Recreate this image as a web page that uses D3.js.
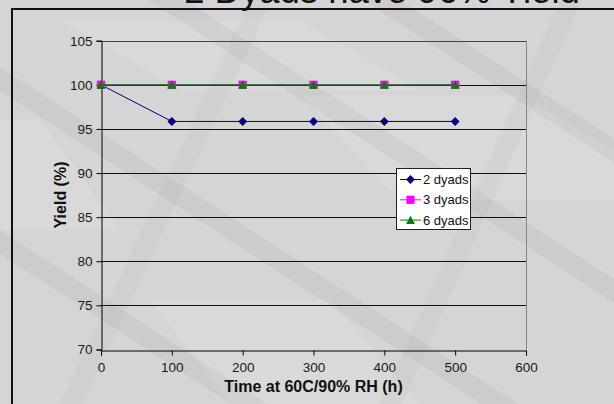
<!DOCTYPE html>
<html>
<head>
<meta charset="utf-8">
<script src="https://cdn.jsdelivr.net/npm/d3@7"></script>
<style>
  html, body { margin: 0; padding: 0; background: #d4d4d4; }
  svg { display: block; }
  text { font-family: Arial, "Liberation Sans", sans-serif; }
</style>
</head>
<body>
<script>
// ---- data ----
const hours = [0, 100, 200, 300, 400, 500];
const yield2 = [100, 95.85, 95.85, 95.85, 95.85, 95.85];
const yield3 = [100, 100, 100, 100, 100, 100];
const yield6 = [100, 100, 100, 100, 100, 100];
const seriesNames = ["2 dyads", "3 dyads", "6 dyads"];
const xTicks = [0, 100, 200, 300, 400, 500, 600];
const yTicks = [70, 75, 80, 85, 90, 95, 100, 105];
const titleText = "2 Dyads have 96% Yield";
const xTitle = "Time at 60C/90% RH (h)";
const yTitle = "Yield (%)";

const W = 614, H = 404;
const svg = d3.select("body").append("svg").attr("width", W).attr("height", H);

// ---- textured background ----
const bg = svg.append("g");
bg.append("rect").attr("width", W).attr("height", H).attr("fill", "#d5d5d5");
const panels = [
  [[60,20],[300,20],[420,90],[180,90]],
  [[300,95],[520,95],[614,150],[614,200],[400,200]],
  [[150,300],[330,300],[420,404],[230,404]],
  [[0,120],[40,120],[120,230],[0,230]]
];
panels.forEach(p => bg.append("polygon").attr("points", p.map(d => d.join(",")).join(" "))
  .attr("fill", "#ffffff").attr("opacity", 0.1));
const slope = 0.65;
[-260, -120, 67, 230, 420].forEach(c => {
  const y0 = c, y1 = c + slope * W;
  bg.append("polygon")
    .attr("points", `0,${y0} 0,${y0 + 24} ${W},${y1 + 24} ${W},${y1}`)
    .attr("fill", "#000").attr("opacity", 0.04);
});
[[250, 0, 60, 404], [560, 0, 380, 404]].forEach(b => {
  bg.append("polygon")
    .attr("points", `${b[0]},${b[1]} ${b[0] + 22},${b[1]} ${b[2] + 22},${b[3]} ${b[2]},${b[3]}`)
    .attr("fill", "#000").attr("opacity", 0.025);
});

// ---- frame & title ----
svg.append("text").attr("x", 382).attr("y", 3)
  .attr("text-anchor", "middle").attr("font-size", 36.5).attr("fill", "#111")
  .text(titleText);
svg.append("rect").attr("x", 12).attr("y", 9).attr("width", 700).attr("height", 500)
  .attr("fill", "none").attr("stroke", "#111").attr("stroke-width", 2);

// ---- scales ----
const x = d3.scaleLinear().domain([0, 600]).range([101, 526]);
const y = d3.scaleLinear().domain([70, 105]).range([349.5, 40.7]);

svg.append("g").selectAll("line").data(yTicks.filter(t => t > 70)).join("line")
  .attr("x1", x(0)).attr("x2", x(600))
  .attr("y1", d => Math.round(y(d)) + 0.5).attr("y2", d => Math.round(y(d)) + 0.5)
  .attr("stroke", d => d === 105 ? "#444" : "#111").attr("stroke-width", 1);
svg.append("line").attr("x1", Math.round(x(600)) + 0.5).attr("x2", Math.round(x(600)) + 0.5)
  .attr("y1", y(105)).attr("y2", y(70)).attr("stroke", "#888");

const yAxis = svg.append("g").attr("transform", `translate(${Math.round(x(0)) + 0.5},0)`)
  .call(d3.axisLeft(y).tickValues(yTicks).tickSize(5).tickPadding(4).tickFormat(d3.format("d")));
const xAxis = svg.append("g").attr("transform", `translate(0,${Math.round(y(70)) + 0.5})`)
  .call(d3.axisBottom(x).tickValues(xTicks).tickSize(5).tickPadding(7).tickFormat(d3.format("d")));
[yAxis, xAxis].forEach(a => {
  a.select(".domain").attr("stroke", "#000");
  a.selectAll(".tick line").attr("stroke", "#000");
  a.selectAll(".tick text").attr("font-size", 13.5).attr("fill", "#1a1a1a")
    .attr("font-family", "Arial, 'Liberation Sans', sans-serif");
});

svg.append("text").attr("x", (x(0) + x(600)) / 2).attr("y", 391.5)
  .attr("text-anchor", "middle").attr("font-size", 16).attr("font-weight", "bold").attr("fill", "#111")
  .text(xTitle);
svg.append("text").attr("transform", "translate(66,195) rotate(-90)")
  .attr("text-anchor", "middle").attr("font-size", 16).attr("font-weight", "bold").attr("fill", "#111")
  .text(yTitle);

// ---- series ----
const wideDiamond = {
  draw(ctx, size) {
    const r = Math.sqrt(size / 2);
    ctx.moveTo(0, -r); ctx.lineTo(r, 0); ctx.lineTo(0, r); ctx.lineTo(-r, 0); ctx.closePath();
  }
};
const triUp = {
  draw(ctx, size) {
    const s = Math.sqrt(size);
    ctx.moveTo(0, -s * 0.55); ctx.lineTo(s * 0.55, s * 0.5); ctx.lineTo(-s * 0.55, s * 0.5); ctx.closePath();
  }
};
const series = [
  { name: seriesNames[0], vals: yield2, color: "#000080", sym: wideDiamond, size: 40 },
  { name: seriesNames[1], vals: yield3, color: "#ff00ff", sym: d3.symbolSquare, size: 68 },
  { name: seriesNames[2], vals: yield6, color: "#008000", sym: triUp, size: 64 }
];
const line = d3.line().x((d, i) => x(hours[i])).y(d => y(d));
series.forEach(s => {
  const g = svg.append("g");
  g.append("path").datum(s.vals).attr("d", line)
    .attr("fill", "none").attr("stroke", s.color).attr("stroke-width", 1);
  g.selectAll("path.m").data(s.vals).join("path").attr("class", "m")
    .attr("transform", (d, i) => `translate(${x(hours[i])},${y(d)})`)
    .attr("d", d3.symbol().type(s.sym).size(s.size))
    .attr("fill", s.color);
});

// ---- legend ----
const lg = svg.append("g");
lg.append("rect").attr("x", 396.5).attr("y", 168.5).attr("width", 74).attr("height", 61)
  .attr("fill", "#fff").attr("stroke", "#222").attr("stroke-width", 1);
series.forEach((s, i) => {
  const cy = 179.5 + i * 20.3;
  lg.append("line").attr("x1", 400).attr("x2", 421).attr("y1", cy).attr("y2", cy)
    .attr("stroke", s.color).attr("stroke-width", 1);
  lg.append("path").attr("transform", `translate(410.5,${cy})`)
    .attr("d", d3.symbol().type(s.sym).size(s.size)).attr("fill", s.color);
  lg.append("text").attr("x", 423).attr("y", cy).attr("dy", "0.36em")
    .attr("font-size", 13).attr("fill", "#111").text(s.name);
});
</script>
</body>
</html>
